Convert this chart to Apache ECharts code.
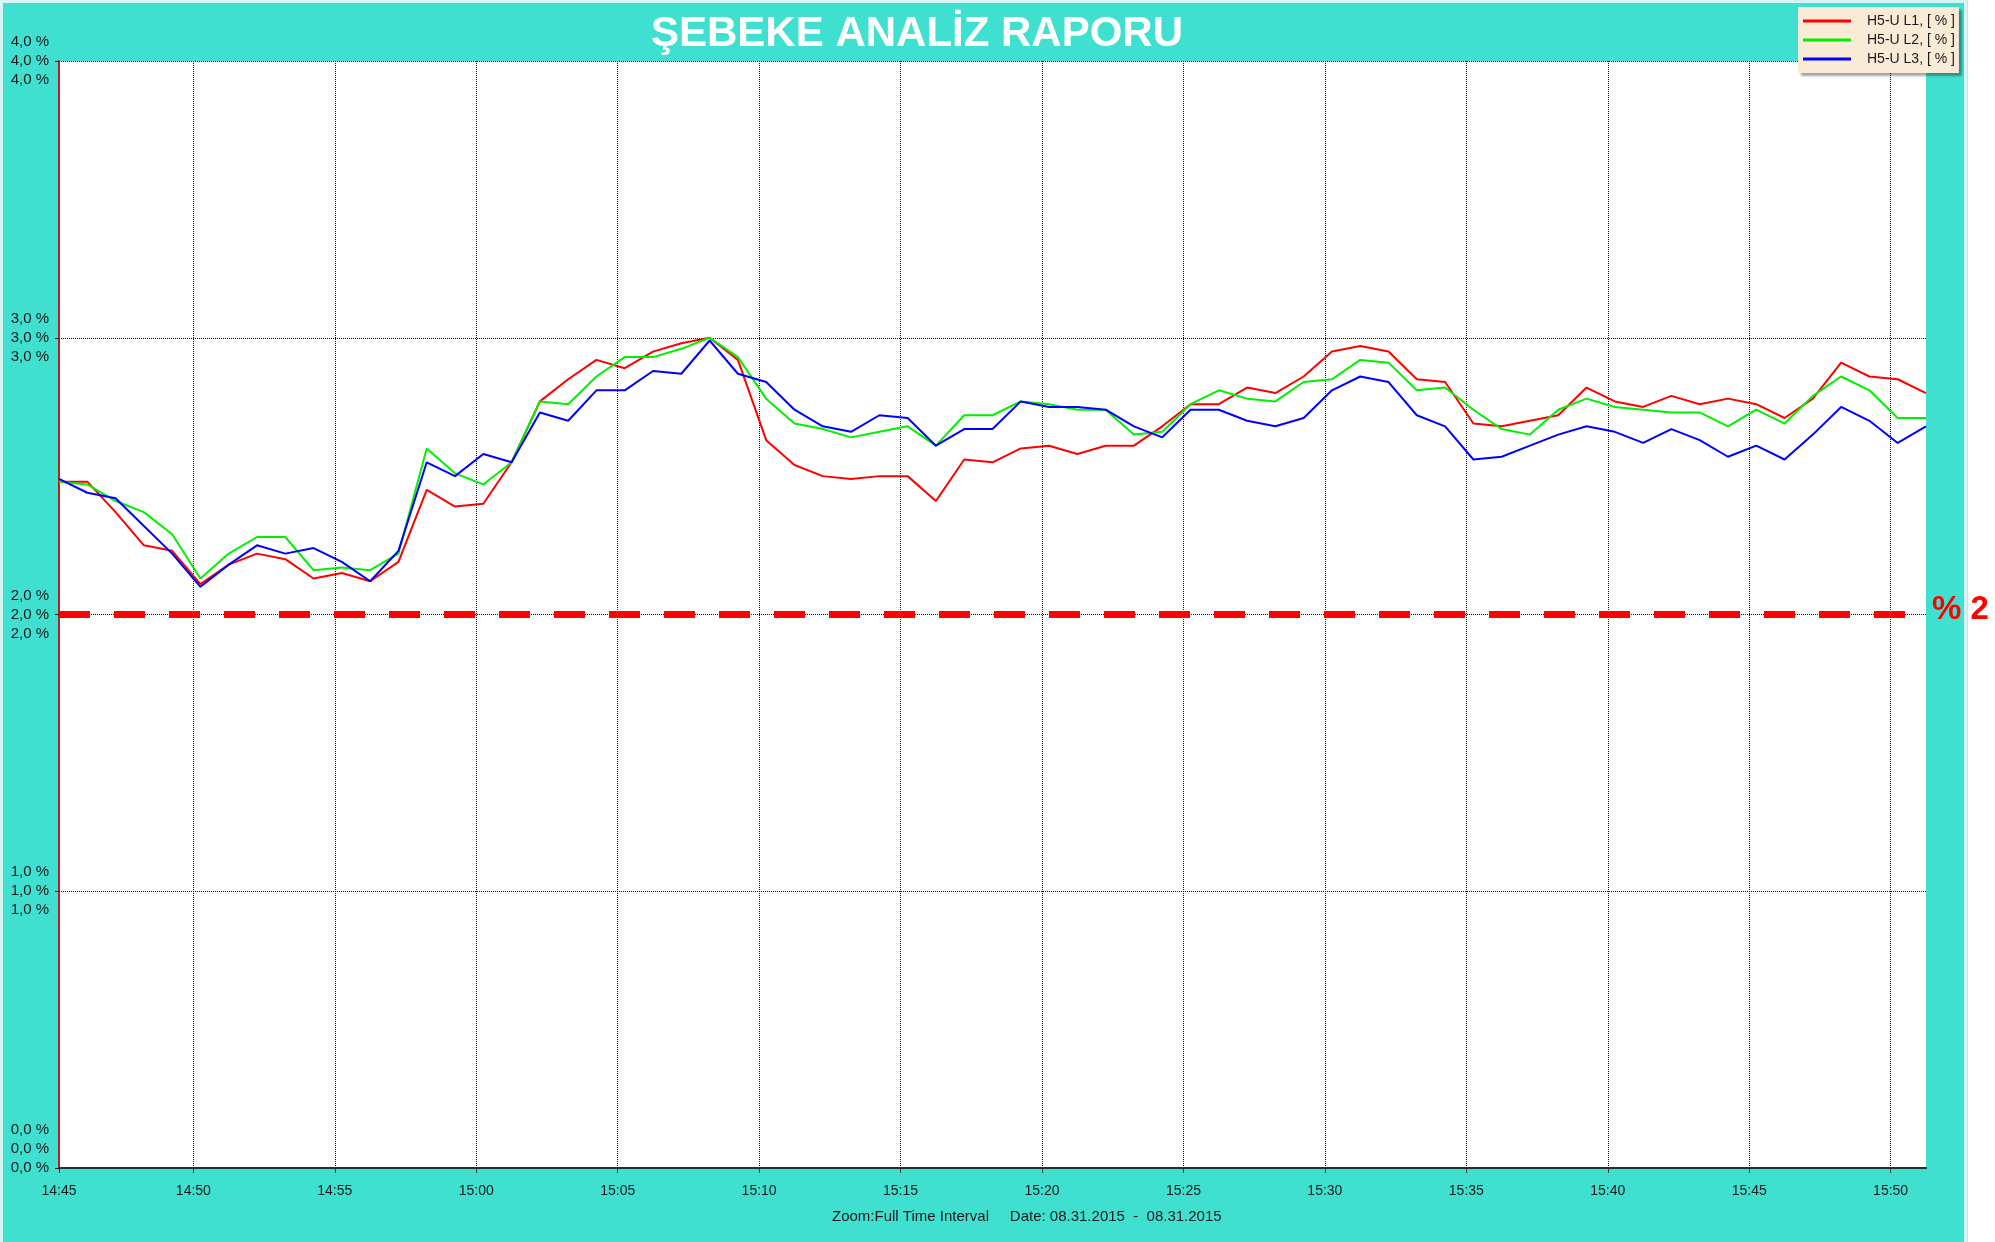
<!DOCTYPE html>
<html>
<head>
<meta charset="utf-8">
<title>ŞEBEKE ANALİZ RAPORU</title>
<script src="https://cdn.jsdelivr.net/npm/echarts@6/dist/echarts.min.js"></script>
<style>
    html, body { margin: 0; padding: 0; background: #fff; }
    #chart { width: 1995px; height: 1242px; }
</style>
</head>
<body>
<div id="chart"></div>
<script>
    // olcum zamanlari (1 dk aralik)
    var times = [
        '14:45:15', '14:46:15', '14:47:15', '14:48:15', '14:49:15', '14:50:15', '14:51:15', '14:52:15',
        '14:53:15', '14:54:15', '14:55:15', '14:56:15', '14:57:15', '14:58:15', '14:59:15', '15:00:15',
        '15:01:15', '15:02:15', '15:03:15', '15:04:15', '15:05:15', '15:06:15', '15:07:15', '15:08:15',
        '15:09:15', '15:10:15', '15:11:15', '15:12:15', '15:13:15', '15:14:15', '15:15:15', '15:16:15',
        '15:17:15', '15:18:15', '15:19:15', '15:20:15', '15:21:15', '15:22:15', '15:23:15', '15:24:15',
        '15:25:15', '15:26:15', '15:27:15', '15:28:15', '15:29:15', '15:30:15', '15:31:15', '15:32:15',
        '15:33:15', '15:34:15', '15:35:15', '15:36:15', '15:37:15', '15:38:15', '15:39:15', '15:40:15',
        '15:41:15', '15:42:15', '15:43:15', '15:44:15', '15:45:15', '15:46:15', '15:47:15', '15:48:15',
        '15:49:15', '15:50:15', '15:51:15'
    ];
    var tickLabels = ['14:45', '14:50', '14:55', '15:00', '15:05', '15:10', '15:15',
        '15:20', '15:25', '15:30', '15:35', '15:40', '15:45', '15:50'];

    var seriesNames = ['H5-U L1, [ % ]', 'H5-U L2, [ % ]', 'H5-U L3, [ % ]'];
    var seriesColors = ['#ff0000', '#00f000', '#0000ff'];

    var l1 = [2.48, 2.48, 2.37, 2.25, 2.23, 2.11, 2.18, 2.22, 2.20, 2.13, 2.15, 2.12, 2.19, 2.45, 2.39, 2.40,
        2.55, 2.77, 2.85, 2.92, 2.89, 2.95, 2.98, 3.00, 2.92, 2.63, 2.54, 2.50, 2.49, 2.50, 2.50, 2.41,
        2.56, 2.55, 2.60, 2.61, 2.58, 2.61, 2.61, 2.68, 2.76, 2.76, 2.82, 2.80, 2.86, 2.95, 2.97, 2.95,
        2.85, 2.84, 2.69, 2.68, 2.70, 2.72, 2.82, 2.77, 2.75, 2.79, 2.76, 2.78, 2.76, 2.71, 2.78, 2.91,
        2.86, 2.85, 2.80];
    var l2 = [2.48, 2.47, 2.41, 2.37, 2.29, 2.13, 2.22, 2.28, 2.28, 2.16, 2.17, 2.16, 2.22, 2.60, 2.51, 2.47,
        2.55, 2.77, 2.76, 2.86, 2.93, 2.93, 2.96, 3.00, 2.93, 2.78, 2.69, 2.67, 2.64, 2.66, 2.68, 2.61,
        2.72, 2.72, 2.77, 2.76, 2.74, 2.74, 2.65, 2.66, 2.76, 2.81, 2.78, 2.77, 2.84, 2.85, 2.92, 2.91,
        2.81, 2.82, 2.74, 2.67, 2.65, 2.74, 2.78, 2.75, 2.74, 2.73, 2.73, 2.68, 2.74, 2.69, 2.79, 2.86,
        2.81, 2.71, 2.71];
    var l3 = [2.49, 2.44, 2.42, 2.32, 2.22, 2.10, 2.18, 2.25, 2.22, 2.24, 2.19, 2.12, 2.23, 2.55, 2.50, 2.58,
        2.55, 2.73, 2.70, 2.81, 2.81, 2.88, 2.87, 2.99, 2.87, 2.84, 2.74, 2.68, 2.66, 2.72, 2.71, 2.61,
        2.67, 2.67, 2.77, 2.75, 2.75, 2.74, 2.68, 2.64, 2.74, 2.74, 2.70, 2.68, 2.71, 2.81, 2.86, 2.84,
        2.72, 2.68, 2.56, 2.57, 2.61, 2.65, 2.68, 2.66, 2.62, 2.67, 2.63, 2.57, 2.61, 2.56, 2.65, 2.75,
        2.70, 2.62, 2.68];
    var limitValue = 2.0;

    var START = 14 * 60 + 45;
    var FONT = "'Liberation Sans', Arial, sans-serif";

    //zaman -> 14:45'ten itibaren dakika
    function toMinutes(t) {
        var p = t.split(':');
        return (+p[0]) * 60 + (+p[1]) + (p[2] ? (+p[2]) / 60 : 0) - START;
    }
    function pairs(values) {
        return times.map(function (t, i) { return [toMinutes(t), values[i]]; });
    }

    var xMin = toMinutes(times[0]);
    var xMax = toMinutes(times[times.length - 1]);
    var tickValues = tickLabels.map(function (l) { return Math.max(toMinutes(l), xMin); });

    function pct(v) {
        var s = v.toFixed(1).replace('.', ',') + ' %';
        var t = s + '\n' + s + '\n' + s;
        return v === 0 ? t + '\n\n' : t;
    }

    var series = [l1, l2, l3].map(function (vals, i) {
        return {
            name: seriesNames[i],
            type: 'line',
            data: pairs(vals),
            showSymbol: false,
            lineStyle: { color: seriesColors[i], width: 2 },
            itemStyle: { color: seriesColors[i] },
            z: 3 + i
        };
    });
    //%2 sinir cizgisi
    series[0].markLine = {
        silent: true,
        symbol: ['none', 'none'],
        z: 2,
        data: [{ yAxis: limitValue }],
        lineStyle: { color: '#ff0000', width: 7, type: [31, 24] },
        label: {
            show: true,
            position: 'end',
            distance: 6,
            formatter: '% 2',
            color: '#ff0000',
            fontSize: 33,
            fontWeight: 'bold',
            fontFamily: FONT,
            offset: [0, -5]
        }
    };

    var chart = echarts.init(document.getElementById('chart'));
    chart.setOption({
        animation: false,
        backgroundColor: '#40e0d0',
        title: [{
            text: 'ŞEBEKE ANALİZ RAPORU',
            left: 651,
            top: 13,
            padding: 0,
            textStyle: {
                color: '#ffffff',
                fontSize: 42,
                fontWeight: 'bold',
                fontFamily: FONT,
                textShadowColor: '#8c8c8c',
                textShadowOffsetX: 3,
                textShadowOffsetY: 3,
                textShadowBlur: 0
            }
        }, {
            text: 'Zoom:Full Time Interval     Date: 08.31.2015  -  08.31.2015',
            left: 832,
            top: 1209,
            padding: 0,
            textStyle: { color: '#1a1a1a', fontSize: 15, fontWeight: 'normal', fontFamily: FONT }
        }],
        legend: {
            orient: 'vertical',
            left: 1798,
            top: 7,
            padding: [6, 4, 6, 5],
            itemGap: 3,
            itemWidth: 48,
            itemHeight: 3,
            icon: 'rect',
            backgroundColor: '#faebd7',
            shadowColor: 'rgba(0,0,0,0.35)',
            shadowBlur: 2,
            shadowOffsetX: 3,
            shadowOffsetY: 3,
            selectedMode: false,
            textStyle: { color: '#1a1a1a', fontSize: 14, lineHeight: 16, fontFamily: FONT, padding: [0, 0, 0, 11] },
            data: seriesNames
        },
        graphic: [
            { type: 'rect', shape: { x: 1966, y: 0, width: 29, height: 1242 }, style: { fill: '#ffffff' }, z: 0 },
            { type: 'line', shape: { x1: 1966.5, y1: 0, x2: 1966.5, y2: 1242 }, style: { stroke: '#a8c8c4', lineWidth: 2 }, z: 0 },
            { type: 'rect', shape: { x: 1.5, y: 1.5, width: 1964, height: 1250 }, style: { fill: null, stroke: '#d4f5f1', lineWidth: 3 }, z: 0 }
        ],
        grid: {
            left: 59,
            top: 61,
            right: 69,
            bottom: 74,
            show: true,
            backgroundColor: '#ffffff',
            borderWidth: 0
        },
        xAxis: {
            type: 'value',
            min: xMin,
            max: xMax,
            axisLine: { onZero: false, lineStyle: { color: '#1e3232', width: 2 } },
            axisTick: { customValues: tickValues, length: 5, lineStyle: { color: '#1e3232' } },
            axisLabel: {
                customValues: tickValues,
                margin: 16,
                color: '#1a1a1a',
                fontSize: 14,
                fontFamily: FONT,
                formatter: function (v) {
                    var m = START + Math.floor(v + 1e-6);
                    var mm = m % 60;
                    return Math.floor(m / 60) + ':' + (mm < 10 ? '0' : '') + mm;
                }
            },
            splitLine: { show: true, lineStyle: { color: '#111111', width: 1, type: 'dotted' } }
        },
        yAxis: {
            type: 'value',
            min: 0,
            max: 4,
            interval: 1,
            axisLine: { show: true, lineStyle: { color: '#b22222', width: 2 } },
            axisTick: { show: true, length: 4, lineStyle: { color: '#1a1a1a' } },
            axisLabel: {
                margin: 10,
                color: '#1a1a1a',
                fontSize: 15,
                lineHeight: 19,
                fontFamily: FONT,
                formatter: pct
            },
            splitLine: { show: true, lineStyle: { color: '#111111', width: 1, type: 'dotted' } }
        },
        series: series
    });
</script>
</body>
</html>
